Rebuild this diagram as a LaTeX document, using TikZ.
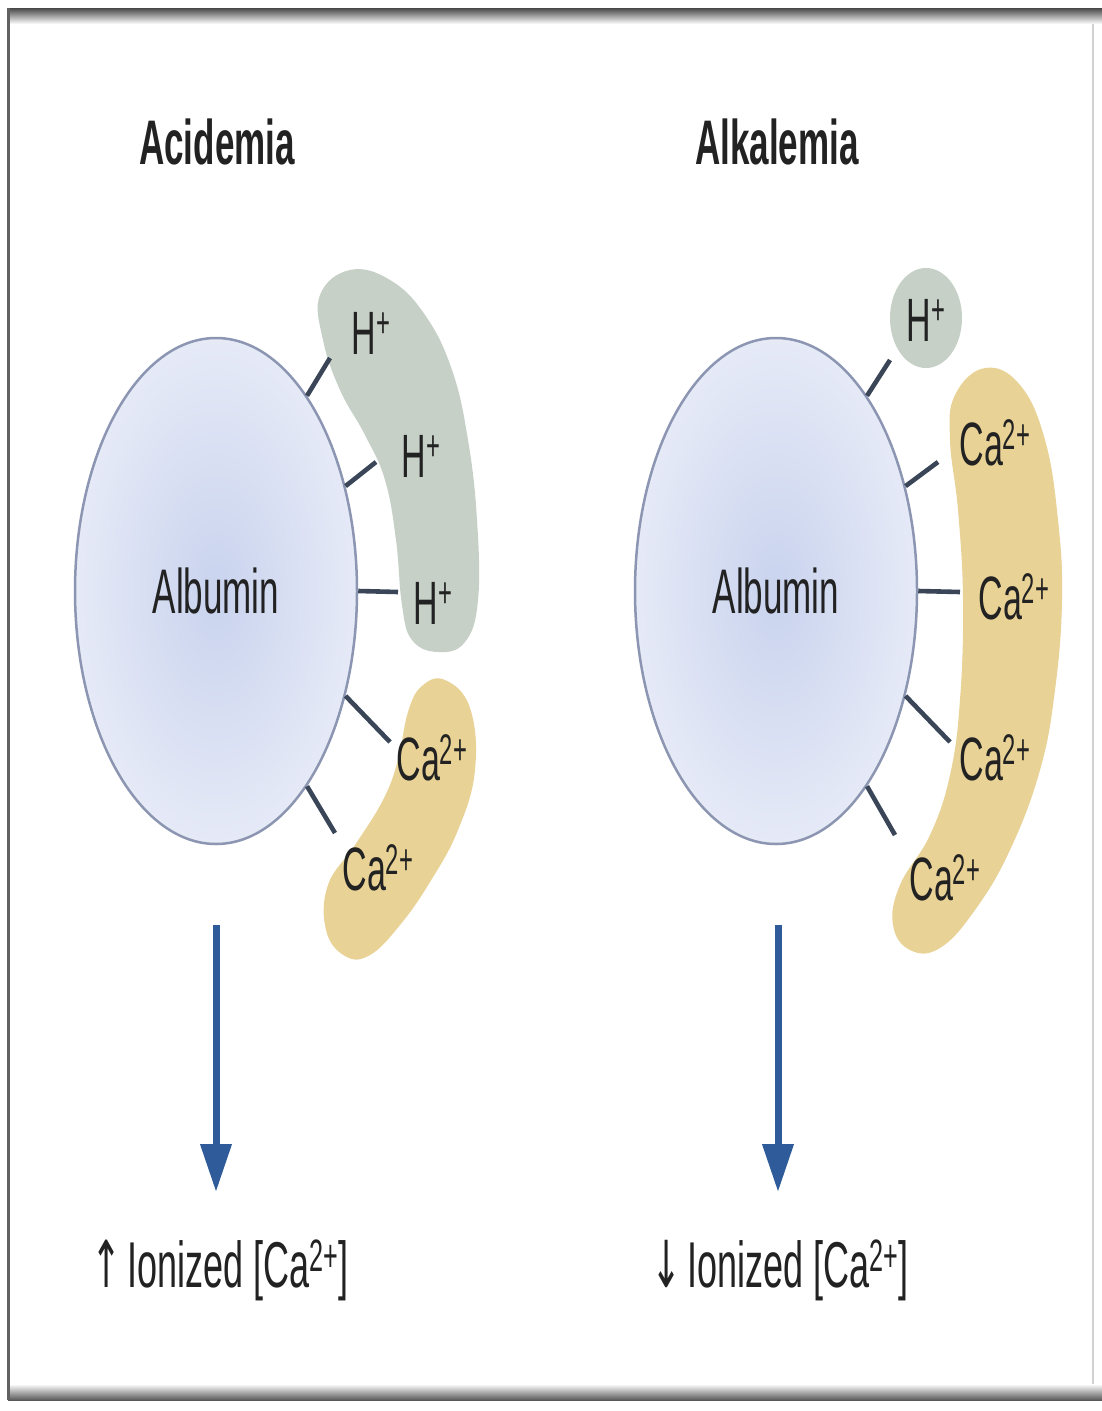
\documentclass[tikz,border=0pt]{standalone}
\usepackage{fontspec}
\setmainfont{Liberation Sans}
\newfontfamily\arrfont{DejaVu Sans}
\usetikzlibrary{arrows.meta,shapes.geometric}
\definecolor{hgray}{HTML}{C6D0C7}
\definecolor{cayel}{HTML}{E8D296}
\definecolor{albin}{HTML}{C9D3EE}
\definecolor{albout}{HTML}{E6EAF7}
\definecolor{albedge}{HTML}{8C96B2}
\definecolor{tickc}{HTML}{3A4658}
\definecolor{arrblue}{HTML}{2F5B9A}
\definecolor{txt}{HTML}{222222}
\newcommand{\vs}[1]{\scalebox{1}[1.8]{#1}}
\begin{document}
\begin{tikzpicture}[x=1pt,y=-1pt,
  lbl/.style={inner sep=0pt, text=txt, font=\fontsize{34}{40}\selectfont},
  ttl/.style={lbl, font=\fontsize{35}{40}\selectfont\bfseries},
  res/.style={lbl, font=\fontsize{36}{40}\selectfont},
  alb/.style={ellipse, minimum width=282pt, minimum height=506pt, inner sep=0pt,
    draw=albedge, line width=2.5pt, inner color=albin, outer color=albout,
    text=txt, font=\fontsize{35}{40}\selectfont},
  tick/.style={draw=tickc, line width=4.6pt},
  bigarrow/.style={draw=arrblue, line width=7pt, -{Triangle[width=30pt,length=48pt]}},
  hblob/.style={fill=hgray, draw=none},
  cblob/.style={fill=cayel, draw=none}]
\useasboundingbox (0,0) rectangle (1102,1411);
% frame
\fill[white] (0,0) rectangle (1102,1411);
\shade[top color=black!72, bottom color=white] (8,8) rectangle (1102,24);
\shade[top color=white, bottom color=black!65] (8,1384) rectangle (1102,1400);
\fill[black!62] (7,8) rectangle (10,1400);
\draw[black!18, line width=1.5pt] (1093,24) -- (1093,1384);

% titles
\node[ttl] (tA) at (217,142) {\vs{Acidemia}};
\node[ttl] (tB) at (777,142) {\vs{Alkalemia}};

% ---- left (acidemia) ----
\fill[hblob] plot[smooth cycle, tension=0.7] coordinates {
 (350,270) (390,280) (425,315) (452,370) (468,440) (477,520) (478,600)
 (465,642) (438,652) (412,640) (402,605) (396,540) (385,480) (365,435)
 (340,390) (323,340) (320,295)};
\fill[cblob] plot[smooth cycle, tension=0.7] coordinates {
 (445,680) (470,708) (475,770) (458,830) (430,882) (400,925) (370,955)
 (345,956) (326,930) (328,885) (355,845) (383,800) (398,760) (408,712) (422,686)};
\node[alb] (albL) at (216,591) {\vs{Albumin}};
\coordinate (tL1) at (330,358);
\coordinate (tL2) at (376,462);
\coordinate (tL3) at (398,592);
\coordinate (tL4) at (390,742);
\coordinate (tL5) at (335,833);
\draw[tick] (albL.65) -- (tL1);
\draw[tick] (albL.39) -- (tL2);
\draw[tick] (albL.0) -- (tL3);
\draw[tick] (albL.-39) -- (tL4);
\draw[tick] (albL.-65) -- (tL5);
\node[lbl] (hL1) at (371,333) {\vs{H\textsuperscript{+}}};
\node[lbl] (hL2) at (421,456) {\vs{H\textsuperscript{+}}};
\node[lbl] (hL3) at (433,603) {\vs{H\textsuperscript{+}}};
\node[lbl] (cL1) at (432,758) {\vs{Ca\textsuperscript{2+}}};
\node[lbl] (cL2) at (378,868) {\vs{Ca\textsuperscript{2+}}};
\coordinate (aL1) at (216,925);
\coordinate (aL2) at (216,1192);
\draw[bigarrow] (aL1) -- (aL2);
\node[res] (rL) at (220,1270) {\vs{{\arrfont ↑}\,Ionized [Ca\textsuperscript{2+}]}};

% ---- right (alkalemia) ----
\fill[hblob] (926,318) ellipse [x radius=36, y radius=50];
\fill[cblob] plot[smooth cycle, tension=0.7] coordinates {
 (985,368) (1020,385) (1045,440) (1058,520) (1062,600) (1055,690) (1040,770)
 (1010,850) (975,910) (940,948) (910,950) (893,925) (900,885) (930,835)
 (950,775) (960,700) (963,600) (958,510) (950,440) (955,395)};
\node[alb] (albR) at (776,591) {\vs{Albumin}};
\coordinate (tR1) at (890,360);
\coordinate (tR2) at (938,462);
\coordinate (tR3) at (960,592);
\coordinate (tR4) at (950,742);
\coordinate (tR5) at (895,835);
\draw[tick] (albR.65) -- (tR1);
\draw[tick] (albR.39) -- (tR2);
\draw[tick] (albR.0) -- (tR3);
\draw[tick] (albR.-39) -- (tR4);
\draw[tick] (albR.-65) -- (tR5);
\node[lbl] (hR1) at (926,320) {\vs{H\textsuperscript{+}}};
\node[lbl] (cR1) at (995,443) {\vs{Ca\textsuperscript{2+}}};
\node[lbl] (cR2) at (1014,597) {\vs{Ca\textsuperscript{2+}}};
\node[lbl] (cR3) at (995,758) {\vs{Ca\textsuperscript{2+}}};
\node[lbl] (cR4) at (945,878) {\vs{Ca\textsuperscript{2+}}};
\coordinate (aR1) at (778,925);
\coordinate (aR2) at (778,1192);
\draw[bigarrow] (aR1) -- (aR2);
\node[res] (rR) at (780,1270) {\vs{{\arrfont ↓}\,Ionized [Ca\textsuperscript{2+}]}};
\end{tikzpicture}
\end{document}
